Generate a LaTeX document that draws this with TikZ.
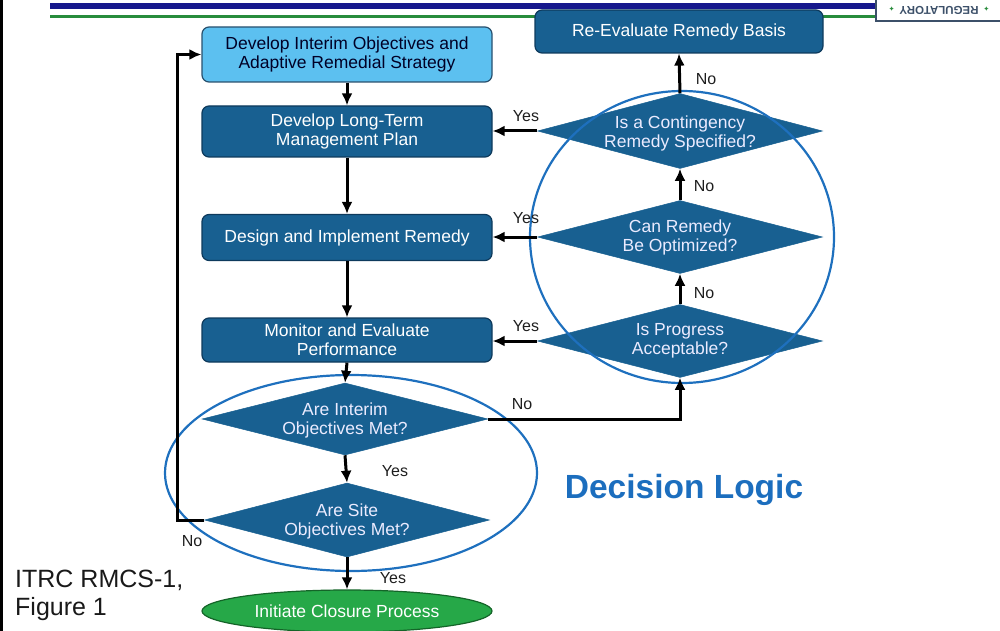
\documentclass[tikz,border=0pt]{standalone}
\usepackage{fontspec}
\setmainfont{Liberation Sans}
\newfontfamily\symfont{DejaVu Sans}
\usetikzlibrary{shapes.geometric,arrows.meta}
\definecolor{darkbox}{RGB}{24,96,145}
\definecolor{darkedge}{RGB}{14,58,92}
\definecolor{lightbox}{RGB}{92,192,240}
\definecolor{lightedge}{RGB}{40,80,110}
\definecolor{ringblue}{RGB}{30,112,190}
\definecolor{closegreen}{RGB}{38,168,72}
\definecolor{closeedge}{RGB}{20,100,40}
\definecolor{navybar}{RGB}{22,24,140}
\definecolor{greenbar}{RGB}{40,140,60}
\definecolor{logicblue}{RGB}{28,110,190}
\definecolor{regtext}{RGB}{60,80,105}
\definecolor{lbltext}{RGB}{30,30,30}
\tikzset{
  base/.style={font=\fontsize{17.5}{19}\selectfont, align=center, inner sep=0pt},
  darkrect/.style={base, rectangle, rounded corners=7pt, fill=darkbox, draw=darkedge, line width=1.2pt, text=white, minimum width=290pt},
  lightrect/.style={darkrect, fill=lightbox, draw=lightedge, text=black!85!blue},
  decision/.style={base, diamond, fill=darkbox, draw=darkbox, line width=0.5pt, minimum width=285pt, minimum height=74pt},
  dtext/.style={base, text=white!92!blue},
  closure/.style={base, ellipse, fill=closegreen, draw=closeedge, line width=1.2pt, text=white, minimum width=290pt, minimum height=42pt},
  flow/.style={line width=3pt, draw=black, -{Latex[length=12pt,width=11pt]}},
  answer/.style={font=\fontsize{16}{16}\selectfont, text=lbltext, inner sep=0pt},
  ring/.style={draw=ringblue, line width=2.2pt}
}
\begin{document}
\begin{tikzpicture}[x=1pt,y=-1pt]
\useasboundingbox (0,0) rectangle (1000,631);
% header decoration
\fill[black] (0,0) rectangle (3,631);
\fill[navybar] (50,3) rectangle (876,9);
\fill[greenbar] (50,15) rectangle (876,18.5);
\draw[draw=regtext, fill=white, line width=1.5pt] (876,-3) rectangle (1003,21);
\node[rotate=180, inner sep=0pt, text=regtext, font=\fontsize{11.5}{12}\selectfont\bfseries] (reg) at (939,10.5)
  {{\color{greenbar}\symfont\fontsize{7}{7}\selectfont ✦}\hspace{5pt}REGULATORY\hspace{5pt}{\color{greenbar}\symfont\fontsize{7}{7}\selectfont ✦}};

% left column boxes
\node[lightrect, minimum height=55pt] (b1) at (347,54.5) {Develop Interim Objectives and\\Adaptive Remedial Strategy};
\node[darkrect, minimum height=51pt] (b2) at (347,131.5) {Develop Long-Term\\Management Plan};
\node[darkrect, minimum height=46pt] (b3) at (347,237.5) {Design and Implement Remedy};
\node[darkrect, minimum height=44pt] (b4) at (347,340) {Monitor and Evaluate\\Performance};
\node[darkrect, minimum width=288pt, minimum height=43pt] (re) at (679,31.5) {Re-Evaluate Remedy Basis};

% decisions
\node[decision, minimum height=75pt] (d1) at (680,131) {};
\node[dtext] (d1t) at (680,133) {Is a Contingency\\Remedy Specified?};
\node[decision, minimum height=73pt] (d2) at (680,237) {};
\node[dtext] (d2t) at (680,237) {Can Remedy\\Be Optimized?};
\node[decision, minimum height=73pt] (d3) at (680,341) {};
\node[dtext] (d3t) at (680,341) {Is Progress\\Acceptable?};
\node[decision, minimum width=286pt, minimum height=72pt] (d4) at (345,419) {};
\node[dtext] (d4t) at (345,420) {Are Interim\\Objectives Met?};
\node[decision, minimum height=74pt] (d5) at (347,520) {};
\node[dtext] (d5t) at (347,521) {Are Site\\Objectives Met?};
\node[closure] (close) at (347,611) {Initiate Closure Process};

% rings
\draw[ring] (682,237) ellipse [x radius=152, y radius=146];
\draw[ring] (351,473) ellipse [x radius=186, y radius=98];

% flow arrows
\draw[flow] (b1.south) -- (b2.north);
\draw[flow] (b2.south) -- (b3.north);
\draw[flow] (b3.south) -- (b4.north);
\draw[flow] (b4.south) -- (d4.north);
\draw[flow] (d4.south) -- (d5.north);
\draw[flow] (d5.south) -- (close.north);
\draw[flow] (d4.east) -| (d3.south);
\coordinate (lx) at (177,520);
\draw[flow] (d5.west) -- (lx) |- (b1.west);
\draw[flow] (d3.north) -- (d2.south);
\draw[flow] (d2.north) -- (d1.south);
\draw[flow] (d1.north) -- (re.south);
\draw[flow] (d1.west) -- (d1.west -| b2.east);
\draw[flow] (d2.west) -- (d2.west -| b3.east);
\draw[flow] (d3.west) -- (d3.west -| b4.east);

% answer labels
\node[answer] (y1) at (526,116) {Yes};
\node[answer] (y2) at (526,218) {Yes};
\node[answer] (y3) at (526,326) {Yes};
\node[answer] (n1) at (706,79) {No};
\node[answer] (n2) at (704,186) {No};
\node[answer] (n3) at (704,293) {No};
\node[answer] (n4) at (522,404) {No};
\node[answer] (y4) at (395,471) {Yes};
\node[answer] (n5) at (192,541) {No};
\node[answer] (y5) at (393,578) {Yes};

% captions
\node[text=logicblue, font=\fontsize{33.5}{34}\selectfont\bfseries, inner sep=0pt] (logic) at (684,490) {Decision Logic};
\node[anchor=north west, align=left, inner sep=0pt, font=\fontsize{25}{27.5}\selectfont, text=black!90] (cap) at (15,570) {ITRC RMCS-1,\\Figure 1};
\end{tikzpicture}
\end{document}
